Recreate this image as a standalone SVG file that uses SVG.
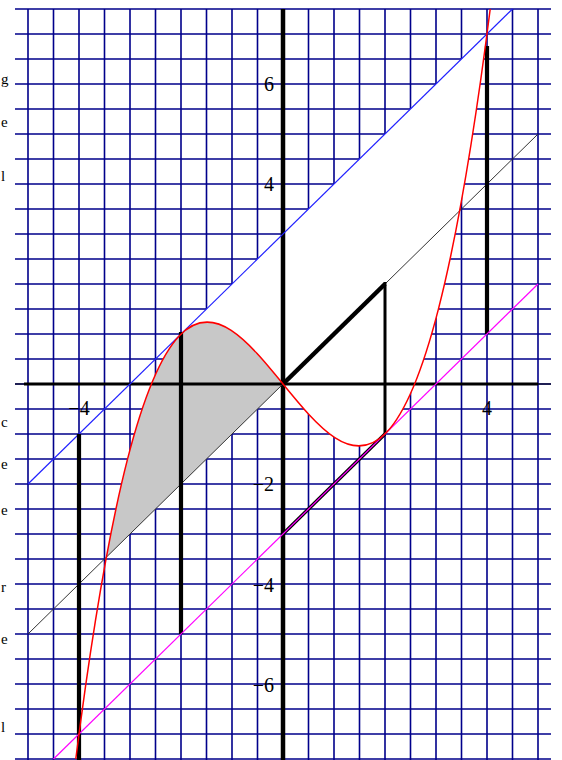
<svg xmlns="http://www.w3.org/2000/svg" width="562" height="760" viewBox="0 0 562 760">
<style>
.grid{stroke:#00008b;stroke-width:1.6;fill:none}
.thick{stroke:#000;stroke-width:4.2;fill:none;stroke-linecap:butt}
.lbl{font-family:"Liberation Serif","Times New Roman",serif;font-size:20px;fill:#000}
.frag{font-family:"Liberation Serif","Times New Roman",serif;font-size:15px;fill:#000}
</style>
<rect width="562" height="760" fill="#fff"/>
<g id="page-fragments">
<text class="frag" x="1" y="84">g</text>
<text class="frag" x="1" y="127">e</text>
<text class="frag" x="1" y="181">l</text>
<text class="frag" x="1" y="427">c</text>
<text class="frag" x="1" y="469">e</text>
<text class="frag" x="1" y="515">e</text>
<text class="frag" x="1" y="592">r</text>
<text class="frag" x="1" y="644">e</text>
<text class="frag" x="1" y="732">l</text>
</g>
<g id="grid" class="grid">
<path d="M28,9V760M53.5,9V760M79,9V760M104.5,9V760M130,9V760M155.5,9V760M181,9V760M206.5,9V760M232,9V760M257.5,9V760M283,9V760M308.5,9V760M334,9V760M359.5,9V760M385,9V760M410.5,9V760M436,9V760M461.5,9V760M487,9V760M512.5,9V760M538,9V760"/>
<path d="M15,9H551M15,34H551M15,59H551M15,84H551M15,109H551M15,134H551M15,159H551M15,184H551M15,209H551M15,234H551M15,259H551M15,284H551M15,309H551M15,334H551M15,359H551M15,384H551M15,409H551M15,434H551M15,459H551M15,484H551M15,509H551M15,534H551M15,559H551M15,584H551M15,609H551M15,634H551M15,659H551M15,684H551M15,709H551M15,734H551M15,759H551"/>
</g>
<g id="regions">
<path id="white-region" d="M181,334 C283,234 385,809 487,34 L181,334 Z" fill="#fff"/>
<path id="gray-region" d="M106.33,557.21 C165.22,239.66 224.11,311.83 283,384 Z" fill="#c8c8c8"/>
</g>
<g id="axes">
<line x1="15" y1="384" x2="551" y2="384" stroke="#000" stroke-width="1.2"/>
<line x1="24" y1="384" x2="538" y2="384" stroke="#000" stroke-width="3"/>
<line x1="283" y1="9" x2="283" y2="760" stroke="#000" stroke-width="4.5"/>
</g>
<g id="connectors">
<line id="line-y-eq-x" x1="28" y1="634" x2="538" y2="134" stroke="#333" stroke-width="1"/>
<line id="line-blue" x1="28" y1="484" x2="512.5" y2="9" stroke="#2020ff" stroke-width="1.2"/>
<line class="thick" x1="79" y1="434" x2="79" y2="760"/>
<line class="thick" x1="181" y1="332" x2="181" y2="634"/>
<line class="thick" x1="487" y1="46" x2="487" y2="334"/>
<line class="thick" x1="385" y1="282" x2="385" y2="434" style="stroke-width:3"/>
<line class="thick" x1="283" y1="384" x2="385" y2="284" style="stroke-width:4.5"/>
<line class="thick" x1="283" y1="534" x2="385" y2="434" style="stroke-width:3.5"/>
<line id="line-magenta" x1="53.5" y1="759" x2="538" y2="284" stroke="#ff00ff" stroke-width="1.2"/>
<path id="red-curve" d="M75.79,759 C213.93,-329.35 352.07,1097.35 490.21,9" fill="none" stroke="#ff0000" stroke-width="1.5"/>
</g>
<g id="labels" class="lbl">
<text x="274" y="91" text-anchor="end">6</text>
<text x="274" y="191" text-anchor="end">4</text>
<text x="274" y="491" text-anchor="end">−2</text>
<text x="274" y="592" text-anchor="end">−4</text>
<text x="274" y="692" text-anchor="end">−6</text>
<text x="79" y="415" text-anchor="middle">−4</text>
<text x="487" y="415" text-anchor="middle">4</text>
</g>
</svg>
